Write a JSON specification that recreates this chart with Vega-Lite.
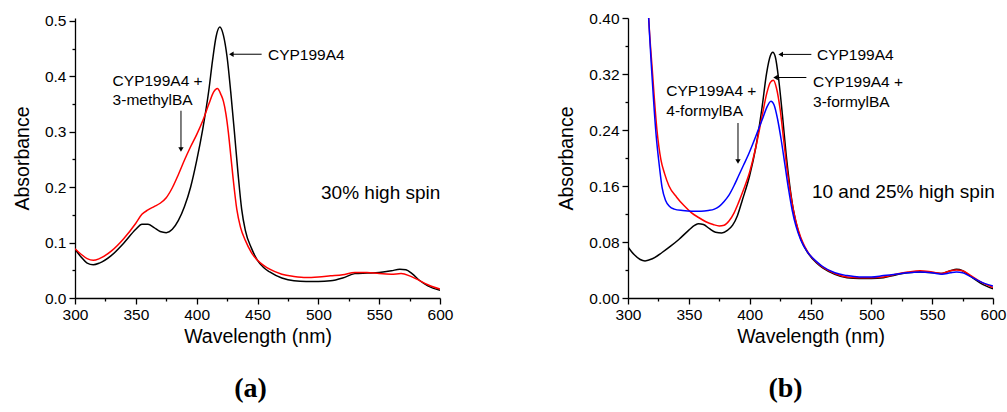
{
  "$schema": "https://vega.github.io/schema/vega-lite/v6.json",
  "background": "white",
  "padding": {"left": 12, "top": 11, "right": 2, "bottom": 2},
  "spacing": 103,
  "config": {
    "view": {"stroke": null},
    "font": "Liberation Sans",
    "axis": {
      "domainColor": "black", "domainWidth": 1.3, "tickColor": "black", "tickWidth": 1.3,
      "labelFont": "Liberation Sans", "labelFontSize": 15.5, "labelColor": "black", "labelPadding": 3, "labelOverlap": false, "labelFlush": false,
      "titleFont": "Liberation Sans", "titleFontSize": 19.5, "titleFontWeight": "normal", "titleColor": "black",
      "grid": false
    },
    "title": {"font": "Liberation Serif", "fontWeight": "bold", "fontSize": 28, "color": "black"}
  },
  "datasets": {
    "specA": [
      {"s": "a", "wl": 300, "abs": 0.088}, {"s": "a", "wl": 305, "abs": 0.074}, {"s": "a", "wl": 310, "abs": 0.063}, {"s": "a", "wl": 315, "abs": 0.060},
      {"s": "a", "wl": 320, "abs": 0.063}, {"s": "a", "wl": 330, "abs": 0.077}, {"s": "a", "wl": 340, "abs": 0.099}, {"s": "a", "wl": 350, "abs": 0.124},
      {"s": "a", "wl": 355, "abs": 0.133}, {"s": "a", "wl": 360, "abs": 0.133}, {"s": "a", "wl": 365, "abs": 0.127}, {"s": "a", "wl": 370, "abs": 0.120},
      {"s": "a", "wl": 375, "abs": 0.118}, {"s": "a", "wl": 380, "abs": 0.124}, {"s": "a", "wl": 385, "abs": 0.140}, {"s": "a", "wl": 390, "abs": 0.165},
      {"s": "a", "wl": 395, "abs": 0.200}, {"s": "a", "wl": 400, "abs": 0.248}, {"s": "a", "wl": 405, "abs": 0.305}, {"s": "a", "wl": 410, "abs": 0.375},
      {"s": "a", "wl": 413, "abs": 0.428}, {"s": "a", "wl": 416, "abs": 0.472}, {"s": "a", "wl": 419, "abs": 0.489}, {"s": "a", "wl": 422, "abs": 0.474},
      {"s": "a", "wl": 425, "abs": 0.435}, {"s": "a", "wl": 428, "abs": 0.372}, {"s": "a", "wl": 431, "abs": 0.300}, {"s": "a", "wl": 434, "abs": 0.225},
      {"s": "a", "wl": 437, "abs": 0.160}, {"s": "a", "wl": 440, "abs": 0.122}, {"s": "a", "wl": 445, "abs": 0.090}, {"s": "a", "wl": 450, "abs": 0.068},
      {"s": "a", "wl": 455, "abs": 0.055}, {"s": "a", "wl": 460, "abs": 0.047}, {"s": "a", "wl": 470, "abs": 0.036}, {"s": "a", "wl": 480, "abs": 0.031},
      {"s": "a", "wl": 490, "abs": 0.030}, {"s": "a", "wl": 500, "abs": 0.030}, {"s": "a", "wl": 510, "abs": 0.031}, {"s": "a", "wl": 520, "abs": 0.036},
      {"s": "a", "wl": 530, "abs": 0.044}, {"s": "a", "wl": 540, "abs": 0.045}, {"s": "a", "wl": 550, "abs": 0.046}, {"s": "a", "wl": 560, "abs": 0.049},
      {"s": "a", "wl": 567, "abs": 0.052}, {"s": "a", "wl": 572, "abs": 0.051}, {"s": "a", "wl": 577, "abs": 0.044}, {"s": "a", "wl": 583, "abs": 0.032},
      {"s": "a", "wl": 590, "abs": 0.022}, {"s": "a", "wl": 600, "abs": 0.014},
      {"s": "b", "wl": 300, "abs": 0.089}, {"s": "b", "wl": 305, "abs": 0.079}, {"s": "b", "wl": 310, "abs": 0.071}, {"s": "b", "wl": 315, "abs": 0.068},
      {"s": "b", "wl": 320, "abs": 0.071}, {"s": "b", "wl": 330, "abs": 0.085}, {"s": "b", "wl": 340, "abs": 0.107}, {"s": "b", "wl": 350, "abs": 0.135},
      {"s": "b", "wl": 355, "abs": 0.151}, {"s": "b", "wl": 360, "abs": 0.159}, {"s": "b", "wl": 365, "abs": 0.165}, {"s": "b", "wl": 370, "abs": 0.171},
      {"s": "b", "wl": 375, "abs": 0.181}, {"s": "b", "wl": 380, "abs": 0.199}, {"s": "b", "wl": 385, "abs": 0.223}, {"s": "b", "wl": 390, "abs": 0.249},
      {"s": "b", "wl": 395, "abs": 0.273}, {"s": "b", "wl": 400, "abs": 0.295}, {"s": "b", "wl": 405, "abs": 0.320}, {"s": "b", "wl": 410, "abs": 0.350},
      {"s": "b", "wl": 414, "abs": 0.372}, {"s": "b", "wl": 417, "abs": 0.378}, {"s": "b", "wl": 420, "abs": 0.367}, {"s": "b", "wl": 422, "abs": 0.355},
      {"s": "b", "wl": 424, "abs": 0.333}, {"s": "b", "wl": 426, "abs": 0.300}, {"s": "b", "wl": 428, "abs": 0.258}, {"s": "b", "wl": 430, "abs": 0.215},
      {"s": "b", "wl": 433, "abs": 0.160}, {"s": "b", "wl": 436, "abs": 0.128}, {"s": "b", "wl": 440, "abs": 0.104}, {"s": "b", "wl": 445, "abs": 0.082},
      {"s": "b", "wl": 450, "abs": 0.068}, {"s": "b", "wl": 455, "abs": 0.059}, {"s": "b", "wl": 460, "abs": 0.052}, {"s": "b", "wl": 470, "abs": 0.043},
      {"s": "b", "wl": 480, "abs": 0.039}, {"s": "b", "wl": 490, "abs": 0.037}, {"s": "b", "wl": 500, "abs": 0.038}, {"s": "b", "wl": 510, "abs": 0.040},
      {"s": "b", "wl": 520, "abs": 0.042}, {"s": "b", "wl": 530, "abs": 0.046}, {"s": "b", "wl": 540, "abs": 0.046}, {"s": "b", "wl": 550, "abs": 0.044},
      {"s": "b", "wl": 560, "abs": 0.043}, {"s": "b", "wl": 568, "abs": 0.044}, {"s": "b", "wl": 575, "abs": 0.040}, {"s": "b", "wl": 580, "abs": 0.035},
      {"s": "b", "wl": 590, "abs": 0.024}, {"s": "b", "wl": 600, "abs": 0.016}
    ],
    "specB": [
      {"s": "a", "wl": 300, "abs": 0.073}, {"s": "a", "wl": 305, "abs": 0.062}, {"s": "a", "wl": 310, "abs": 0.055}, {"s": "a", "wl": 314, "abs": 0.053},
      {"s": "a", "wl": 320, "abs": 0.056}, {"s": "a", "wl": 328, "abs": 0.065}, {"s": "a", "wl": 335, "abs": 0.074}, {"s": "a", "wl": 342, "abs": 0.084},
      {"s": "a", "wl": 350, "abs": 0.097}, {"s": "a", "wl": 355, "abs": 0.104}, {"s": "a", "wl": 358, "abs": 0.106}, {"s": "a", "wl": 362, "abs": 0.105},
      {"s": "a", "wl": 367, "abs": 0.099}, {"s": "a", "wl": 372, "abs": 0.094}, {"s": "a", "wl": 377, "abs": 0.093}, {"s": "a", "wl": 382, "abs": 0.097},
      {"s": "a", "wl": 386, "abs": 0.104}, {"s": "a", "wl": 390, "abs": 0.118}, {"s": "a", "wl": 394, "abs": 0.140}, {"s": "a", "wl": 400, "abs": 0.175},
      {"s": "a", "wl": 405, "abs": 0.215}, {"s": "a", "wl": 410, "abs": 0.270}, {"s": "a", "wl": 414, "abs": 0.322}, {"s": "a", "wl": 417, "abs": 0.346},
      {"s": "a", "wl": 419, "abs": 0.351}, {"s": "a", "wl": 421, "abs": 0.345}, {"s": "a", "wl": 424, "abs": 0.310}, {"s": "a", "wl": 427, "abs": 0.260},
      {"s": "a", "wl": 430, "abs": 0.205}, {"s": "a", "wl": 433, "abs": 0.160}, {"s": "a", "wl": 436, "abs": 0.125}, {"s": "a", "wl": 440, "abs": 0.095},
      {"s": "a", "wl": 443, "abs": 0.080}, {"s": "a", "wl": 448, "abs": 0.064}, {"s": "a", "wl": 455, "abs": 0.050}, {"s": "a", "wl": 460, "abs": 0.043},
      {"s": "a", "wl": 470, "abs": 0.034}, {"s": "a", "wl": 480, "abs": 0.029}, {"s": "a", "wl": 490, "abs": 0.028}, {"s": "a", "wl": 500, "abs": 0.028},
      {"s": "a", "wl": 510, "abs": 0.029}, {"s": "a", "wl": 520, "abs": 0.033}, {"s": "a", "wl": 530, "abs": 0.036}, {"s": "a", "wl": 540, "abs": 0.037},
      {"s": "a", "wl": 550, "abs": 0.036}, {"s": "a", "wl": 557, "abs": 0.035}, {"s": "a", "wl": 565, "abs": 0.039}, {"s": "a", "wl": 570, "abs": 0.041},
      {"s": "a", "wl": 575, "abs": 0.039}, {"s": "a", "wl": 580, "abs": 0.033}, {"s": "a", "wl": 590, "abs": 0.021}, {"s": "a", "wl": 600, "abs": 0.013},
      {"s": "b", "wl": 314, "abs": 0.52}, {"s": "b", "wl": 317, "abs": 0.40}, {"s": "b", "wl": 320, "abs": 0.325}, {"s": "b", "wl": 323.8, "abs": 0.24},
      {"s": "b", "wl": 327, "abs": 0.198}, {"s": "b", "wl": 330, "abs": 0.178}, {"s": "b", "wl": 333.7, "abs": 0.160}, {"s": "b", "wl": 340, "abs": 0.144},
      {"s": "b", "wl": 346, "abs": 0.132}, {"s": "b", "wl": 352, "abs": 0.122}, {"s": "b", "wl": 358, "abs": 0.115}, {"s": "b", "wl": 364, "abs": 0.109},
      {"s": "b", "wl": 370, "abs": 0.105}, {"s": "b", "wl": 375, "abs": 0.103}, {"s": "b", "wl": 379, "abs": 0.104}, {"s": "b", "wl": 383, "abs": 0.110},
      {"s": "b", "wl": 387, "abs": 0.121}, {"s": "b", "wl": 391, "abs": 0.137}, {"s": "b", "wl": 395, "abs": 0.155}, {"s": "b", "wl": 400, "abs": 0.180},
      {"s": "b", "wl": 405, "abs": 0.215}, {"s": "b", "wl": 410, "abs": 0.258}, {"s": "b", "wl": 414, "abs": 0.292}, {"s": "b", "wl": 417, "abs": 0.308},
      {"s": "b", "wl": 419.5, "abs": 0.311}, {"s": "b", "wl": 422, "abs": 0.300}, {"s": "b", "wl": 425, "abs": 0.270}, {"s": "b", "wl": 428, "abs": 0.225},
      {"s": "b", "wl": 431, "abs": 0.180}, {"s": "b", "wl": 434, "abs": 0.145}, {"s": "b", "wl": 437, "abs": 0.117}, {"s": "b", "wl": 440, "abs": 0.097},
      {"s": "b", "wl": 444, "abs": 0.078}, {"s": "b", "wl": 448, "abs": 0.065}, {"s": "b", "wl": 455, "abs": 0.051}, {"s": "b", "wl": 460, "abs": 0.044},
      {"s": "b", "wl": 470, "abs": 0.035}, {"s": "b", "wl": 480, "abs": 0.030}, {"s": "b", "wl": 490, "abs": 0.029}, {"s": "b", "wl": 500, "abs": 0.029},
      {"s": "b", "wl": 510, "abs": 0.030}, {"s": "b", "wl": 520, "abs": 0.034}, {"s": "b", "wl": 530, "abs": 0.037}, {"s": "b", "wl": 540, "abs": 0.039},
      {"s": "b", "wl": 550, "abs": 0.037}, {"s": "b", "wl": 558, "abs": 0.035}, {"s": "b", "wl": 565, "abs": 0.039}, {"s": "b", "wl": 570, "abs": 0.040},
      {"s": "b", "wl": 575, "abs": 0.039}, {"s": "b", "wl": 580, "abs": 0.034}, {"s": "b", "wl": 590, "abs": 0.023}, {"s": "b", "wl": 600, "abs": 0.015},
      {"s": "c", "wl": 314, "abs": 0.52}, {"s": "c", "wl": 317, "abs": 0.40}, {"s": "c", "wl": 320, "abs": 0.31}, {"s": "c", "wl": 323, "abs": 0.235},
      {"s": "c", "wl": 326, "abs": 0.185}, {"s": "c", "wl": 328, "abs": 0.158}, {"s": "c", "wl": 331, "abs": 0.139}, {"s": "c", "wl": 334, "abs": 0.131},
      {"s": "c", "wl": 338, "abs": 0.127}, {"s": "c", "wl": 345, "abs": 0.125}, {"s": "c", "wl": 352, "abs": 0.124}, {"s": "c", "wl": 360, "abs": 0.124},
      {"s": "c", "wl": 366, "abs": 0.125}, {"s": "c", "wl": 371, "abs": 0.127}, {"s": "c", "wl": 375, "abs": 0.131}, {"s": "c", "wl": 379, "abs": 0.138},
      {"s": "c", "wl": 383, "abs": 0.147}, {"s": "c", "wl": 387, "abs": 0.160}, {"s": "c", "wl": 391, "abs": 0.175}, {"s": "c", "wl": 395, "abs": 0.190},
      {"s": "c", "wl": 399, "abs": 0.205}, {"s": "c", "wl": 403, "abs": 0.222}, {"s": "c", "wl": 407, "abs": 0.240}, {"s": "c", "wl": 411, "abs": 0.258},
      {"s": "c", "wl": 414, "abs": 0.272}, {"s": "c", "wl": 417.5, "abs": 0.281}, {"s": "c", "wl": 420, "abs": 0.276}, {"s": "c", "wl": 423, "abs": 0.255},
      {"s": "c", "wl": 426, "abs": 0.225}, {"s": "c", "wl": 429, "abs": 0.190}, {"s": "c", "wl": 432, "abs": 0.155}, {"s": "c", "wl": 435, "abs": 0.125},
      {"s": "c", "wl": 438, "abs": 0.103}, {"s": "c", "wl": 442, "abs": 0.083}, {"s": "c", "wl": 447, "abs": 0.067}, {"s": "c", "wl": 455, "abs": 0.052},
      {"s": "c", "wl": 460, "abs": 0.045}, {"s": "c", "wl": 470, "abs": 0.036}, {"s": "c", "wl": 480, "abs": 0.032}, {"s": "c", "wl": 490, "abs": 0.030},
      {"s": "c", "wl": 500, "abs": 0.030}, {"s": "c", "wl": 510, "abs": 0.032}, {"s": "c", "wl": 520, "abs": 0.034}, {"s": "c", "wl": 530, "abs": 0.036},
      {"s": "c", "wl": 540, "abs": 0.037}, {"s": "c", "wl": 550, "abs": 0.036}, {"s": "c", "wl": 558, "abs": 0.034}, {"s": "c", "wl": 565, "abs": 0.036},
      {"s": "c", "wl": 570, "abs": 0.037}, {"s": "c", "wl": 575, "abs": 0.036}, {"s": "c", "wl": 580, "abs": 0.032}, {"s": "c", "wl": 590, "abs": 0.023},
      {"s": "c", "wl": 600, "abs": 0.017}
    ],
    "arrA": [
      {"dir": "left", "wl": 428.5, "abs": 0.44, "wl2": 453.4, "abs2": 0.44},
      {"dir": "down", "wl": 387.1, "abs": 0.268, "wl2": 387.1, "abs2": 0.338}
    ],
    "arrB": [
      {"dir": "left", "wl": 425.5, "abs": 0.348, "wl2": 450.7, "abs2": 0.348},
      {"dir": "left", "wl": 421.3, "abs": 0.315, "wl2": 446.6, "abs2": 0.315},
      {"dir": "down", "wl": 390.4, "abs": 0.195, "wl2": 390.4, "abs2": 0.25}
    ],
    "txtA": [
      {"kind": "label", "wl": 458.6, "abs": 0.429, "label": "CYP199A4"},
      {"kind": "label", "wl": 330.9, "abs": 0.383, "label": "CYP199A4 +"},
      {"kind": "label", "wl": 330.9, "abs": 0.348, "label": "3-methylBA"},
      {"kind": "spin", "wl": 502.2, "abs": 0.179, "label": "30% high spin"}
    ],
    "txtB": [
      {"kind": "label", "wl": 455.3, "abs": 0.340, "label": "CYP199A4"},
      {"kind": "label", "wl": 452.1, "abs": 0.301, "label": "CYP199A4 +"},
      {"kind": "label", "wl": 452.1, "abs": 0.273, "label": "3-formylBA"},
      {"kind": "label", "wl": 331.5, "abs": 0.289, "label": "CYP199A4 +"},
      {"kind": "label", "wl": 331.5, "abs": 0.260, "label": "4-formylBA"},
      {"kind": "spin", "wl": 451.2, "abs": 0.143, "label": "10 and 25% high spin"}
    ]
  },
  "hconcat": [
    {
      "width": 365, "height": 280,
      "title": {"text": "(a)", "orient": "bottom", "anchor": "middle", "offset": 29, "dx": -7},
      "encoding": {
        "x": {"field": "wl", "type": "quantitative", "scale": {"domain": [300, 600], "nice": false, "zero": false},
          "axis": {"title": "Wavelength (nm)", "titlePadding": 5, "values": [300, 325, 350, 375, 400, 425, 450, 475, 500, 525, 550, 575, 600],
            "labelExpr": "datum.value % 50 === 0 ? datum.label : ''",
            "tickSize": {"condition": {"test": "datum.value % 50 !== 0", "value": 3}, "value": 6}}},
        "y": {"field": "abs", "type": "quantitative", "scale": {"domain": [0, 0.5054], "nice": false},
          "axis": {"title": "Absorbance", "titlePadding": 12, "format": ".1f", "values": [0, 0.05, 0.1, 0.15, 0.2, 0.25, 0.3, 0.35, 0.4, 0.45, 0.5],
            "labelExpr": "round(datum.value * 100) % 10 === 0 ? datum.label : ''",
            "tickSize": {"condition": {"test": "round(datum.value * 100) % 10 !== 0", "value": 3}, "value": 6}}}
      },
      "layer": [
        {
          "data": {"name": "specA"},
          "mark": {"type": "line", "interpolate": "monotone", "strokeWidth": 1.5, "clip": true},
          "encoding": {"color": {"field": "s", "type": "nominal", "scale": {"domain": ["a", "b", "c"], "range": ["#000000", "#ff0000", "#0000ff"]}, "legend": null}}
        },
        {
          "data": {"name": "arrA"},
          "mark": {"type": "rule", "color": "black", "strokeWidth": 1},
          "encoding": {"x2": {"field": "wl2"}, "y2": {"field": "abs2"}}
        },
        {
          "data": {"name": "arrA"},
          "mark": {"type": "point", "filled": true, "color": "black", "opacity": 1, "size": 28},
          "encoding": {"shape": {"field": "dir", "type": "nominal", "scale": {"domain": ["left", "down"], "range": ["triangle-left", "triangle-down"]}, "legend": null}}
        },
        {
          "data": {"name": "txtA"},
          "transform": [{"filter": "datum.kind === 'label'"}],
          "mark": {"type": "text", "align": "left", "baseline": "alphabetic", "fontSize": 15.5, "font": "Liberation Sans", "color": "black"},
          "encoding": {"text": {"field": "label"}}
        },
        {
          "data": {"name": "txtA"},
          "transform": [{"filter": "datum.kind === 'spin'"}],
          "mark": {"type": "text", "align": "left", "baseline": "alphabetic", "fontSize": 19, "font": "Liberation Sans", "color": "black"},
          "encoding": {"text": {"field": "label"}}
        }
      ]
    },
    {
      "width": 365, "height": 280,
      "title": {"text": "(b)", "orient": "bottom", "anchor": "middle", "offset": 29, "dx": -25},
      "encoding": {
        "x": {"field": "wl", "type": "quantitative", "scale": {"domain": [300, 600], "nice": false, "zero": false},
          "axis": {"title": "Wavelength (nm)", "titlePadding": 5, "values": [300, 325, 350, 375, 400, 425, 450, 475, 500, 525, 550, 575, 600],
            "labelExpr": "datum.value % 50 === 0 ? datum.label : ''",
            "tickSize": {"condition": {"test": "datum.value % 50 !== 0", "value": 3}, "value": 6}}},
        "y": {"field": "abs", "type": "quantitative", "scale": {"domain": [0, 0.4], "nice": false},
          "axis": {"title": "Absorbance", "titlePadding": 12, "format": ".2f", "values": [0, 0.04, 0.08, 0.12, 0.16, 0.2, 0.24, 0.28, 0.32, 0.36, 0.4],
            "labelExpr": "round(datum.value * 100) % 8 === 0 ? datum.label : ''",
            "tickSize": {"condition": {"test": "round(datum.value * 100) % 8 !== 0", "value": 3}, "value": 6}}}
      },
      "layer": [
        {
          "data": {"name": "specB"},
          "mark": {"type": "line", "interpolate": "monotone", "strokeWidth": 1.5, "clip": true},
          "encoding": {"color": {"field": "s", "type": "nominal", "scale": {"domain": ["a", "b", "c"], "range": ["#000000", "#ff0000", "#0000ff"]}, "legend": null}}
        },
        {
          "data": {"name": "arrB"},
          "mark": {"type": "rule", "color": "black", "strokeWidth": 1},
          "encoding": {"x2": {"field": "wl2"}, "y2": {"field": "abs2"}}
        },
        {
          "data": {"name": "arrB"},
          "mark": {"type": "point", "filled": true, "color": "black", "opacity": 1, "size": 28},
          "encoding": {"shape": {"field": "dir", "type": "nominal", "scale": {"domain": ["left", "down"], "range": ["triangle-left", "triangle-down"]}, "legend": null}}
        },
        {
          "data": {"name": "txtB"},
          "transform": [{"filter": "datum.kind === 'label'"}],
          "mark": {"type": "text", "align": "left", "baseline": "alphabetic", "fontSize": 15.5, "font": "Liberation Sans", "color": "black"},
          "encoding": {"text": {"field": "label"}}
        },
        {
          "data": {"name": "txtB"},
          "transform": [{"filter": "datum.kind === 'spin'"}],
          "mark": {"type": "text", "align": "left", "baseline": "alphabetic", "fontSize": 19, "font": "Liberation Sans", "color": "black"},
          "encoding": {"text": {"field": "label"}}
        }
      ]
    }
  ]
}
